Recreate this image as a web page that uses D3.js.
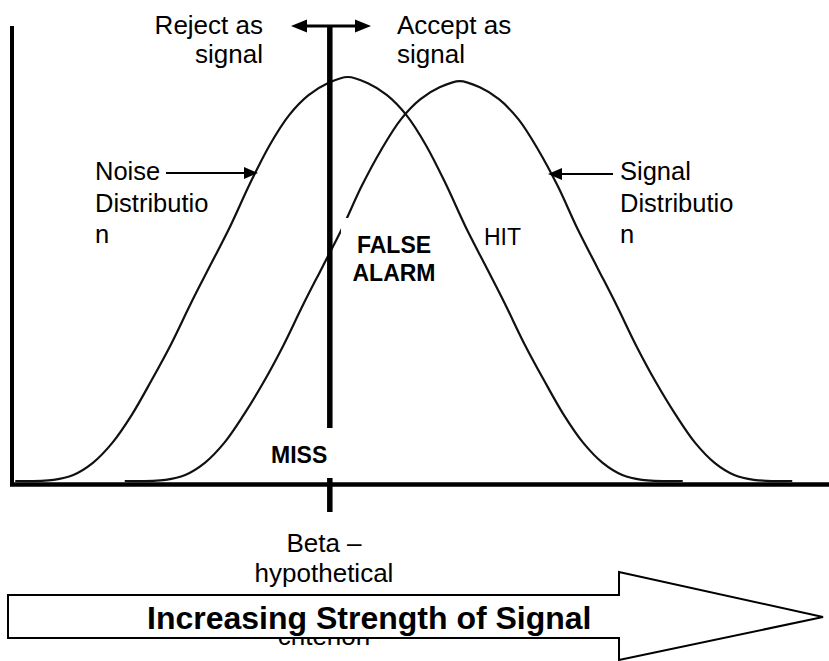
<!DOCTYPE html>
<html>
<head>
<meta charset="utf-8">
<script src="https://cdn.jsdelivr.net/npm/d3@7"></script>
<style>
  body { margin: 0; background: #fff; }
  svg { display: block; font-family: Arial, "Liberation Sans", sans-serif; }
</style>
</head>
<body>
<div id="app"></div>
<script>
// signal strength (0-100) and relative density (0-1)
var noiseX = [0.4, 5.1, 7.5, 9.9, 12.3, 14.7, 17.1, 19.5, 21.9, 24.3, 26.7, 29.1, 31.5, 33.9, 36.3, 38.7, 41.1,
              43.5, 45.9, 48.3, 50.7, 53.1, 55.5, 57.9, 60.3, 62.7, 65.1, 67.5, 69.9, 72.3, 74.7, 77.1, 82.1];
var noiseY = [0, 0.003, 0.015, 0.045, 0.095, 0.165, 0.25, 0.34, 0.44, 0.535, 0.63, 0.735, 0.83, 0.905, 0.955, 0.985, 1.0,
              0.985, 0.955, 0.905, 0.83, 0.735, 0.63, 0.535, 0.44, 0.34, 0.25, 0.165, 0.095, 0.045, 0.015, 0.003, 0];
var signalX = [13.8, 18.8, 21.2, 23.6, 26.0, 28.4, 30.8, 33.2, 35.6, 38.0, 40.4, 42.8, 45.2, 47.6, 50.0, 52.4, 54.8,
               57.2, 59.6, 62.0, 64.4, 66.8, 69.2, 71.6, 74.0, 76.4, 78.8, 81.2, 83.6, 86.0, 88.4, 90.8, 95.5];
var signalY = [0, 0.003, 0.015, 0.045, 0.095, 0.165, 0.245, 0.335, 0.435, 0.53, 0.625, 0.73, 0.82, 0.895, 0.945, 0.975, 0.99,
               0.975, 0.945, 0.895, 0.82, 0.73, 0.625, 0.53, 0.435, 0.335, 0.245, 0.165, 0.095, 0.045, 0.015, 0.003, 0];
var criterion = 38.9; // beta

var W = 829, H = 661;
var svg = d3.select('#app').append('svg').attr('width', W).attr('height', H);

var x = d3.scaleLinear().domain([0, 100]).range([12, 829]);
var y = d3.scaleLinear().domain([0, 1]).range([481, 77]);

var line = d3.line()
  .x(function(d) { return x(d[0]); })
  .y(function(d) { return y(d[1]); })
  .curve(d3.curveCatmullRom.alpha(0.5));

function tri(tipX, tipY, dir, len, half) {
  // filled arrowhead, dir = 1 points right, -1 points left
  var b = tipX - dir * len;
  return 'M' + tipX + ',' + tipY + 'L' + b + ',' + (tipY - half) + 'L' + b + ',' + (tipY + half) + 'Z';
}

// axes (no ticks, just the frame)
svg.append('line').attr('x1', x(0)).attr('x2', x(0)).attr('y1', 26).attr('y2', 486)
  .attr('stroke', '#000').attr('stroke-width', 4);
svg.append('line').attr('x1', 10).attr('x2', W).attr('y1', 484.5).attr('y2', 484.5)
  .attr('stroke', '#000').attr('stroke-width', 4.5);

// the two distributions
var curves = [d3.zip(noiseX, noiseY), d3.zip(signalX, signalY)];
svg.selectAll('path.dist').data(curves).enter().append('path')
  .attr('class', 'dist')
  .attr('d', line)
  .attr('fill', 'none')
  .attr('stroke', '#111')
  .attr('stroke-width', 2.2);

// criterion line
var cx = x(criterion);
svg.append('line').attr('x1', cx).attr('x2', cx).attr('y1', 25).attr('y2', 512)
  .attr('stroke', '#000').attr('stroke-width', 5.5);

// white label boxes cover bits of the lines like in the original
svg.append('rect').attr('x', 341).attr('y', 218).attr('width', 100).attr('height', 80).attr('fill', '#fff');
svg.append('rect').attr('x', 262).attr('y', 428).attr('width', 80).attr('height', 50).attr('fill', '#fff');

// top double arrow
svg.append('line').attr('x1', 300).attr('x2', 362).attr('y1', 26).attr('y2', 26)
  .attr('stroke', '#000').attr('stroke-width', 3);
svg.append('path').attr('d', tri(291, 26, -1, 16, 6.5)).attr('fill', '#000');
svg.append('path').attr('d', tri(371, 26, 1, 16, 6.5)).attr('fill', '#000');

// pointer arrows to the curves
svg.append('line').attr('x1', 166).attr('x2', 248).attr('y1', 173).attr('y2', 173)
  .attr('stroke', '#000').attr('stroke-width', 2);
svg.append('path').attr('d', tri(258, 173, 1, 14, 6)).attr('fill', '#000');
svg.append('line').attr('x1', 558).attr('x2', 613).attr('y1', 174).attr('y2', 174)
  .attr('stroke', '#000').attr('stroke-width', 2);
svg.append('path').attr('d', tri(548, 174, -1, 14, 6)).attr('fill', '#000');

var labels = [
  { t: 'Reject as', x: 263, y: 34, a: 'end', s: 26, w: 'normal' },
  { t: 'signal', x: 263, y: 63, a: 'end', s: 26, w: 'normal' },
  { t: 'Accept as', x: 397, y: 34, a: 'start', s: 26, w: 'normal' },
  { t: 'signal', x: 397, y: 63, a: 'start', s: 26, w: 'normal' },
  { t: 'Noise', x: 95, y: 180, a: 'start', s: 25.5, w: 'normal' },
  { t: 'Distributio', x: 95, y: 212, a: 'start', s: 25.5, w: 'normal' },
  { t: 'n', x: 95, y: 243, a: 'start', s: 25.5, w: 'normal' },
  { t: 'Signal', x: 620, y: 180, a: 'start', s: 25.5, w: 'normal' },
  { t: 'Distributio', x: 620, y: 212, a: 'start', s: 25.5, w: 'normal' },
  { t: 'n', x: 620, y: 243, a: 'start', s: 25.5, w: 'normal' },
  { t: 'FALSE', x: 394, y: 253, a: 'middle', s: 23, w: 'bold' },
  { t: 'ALARM', x: 394, y: 281, a: 'middle', s: 23, w: 'bold' },
  { t: 'HIT', x: 484, y: 245, a: 'start', s: 23, w: 'normal' },
  { t: 'MISS', x: 271, y: 463, a: 'start', s: 23, w: 'bold' },
  { t: 'Beta \u2013', x: 324, y: 552, a: 'middle', s: 26, w: 'normal' },
  { t: 'hypothetical', x: 324, y: 582, a: 'middle', s: 26, w: 'normal' },
  { t: 'criterion', x: 324, y: 645, a: 'middle', s: 26, w: 'normal' }
];
svg.selectAll('text.lab').data(labels).enter().append('text')
  .attr('class', 'lab')
  .attr('x', function(d) { return d.x; })
  .attr('y', function(d) { return d.y; })
  .attr('text-anchor', function(d) { return d.a; })
  .attr('font-size', function(d) { return d.s; })
  .attr('font-weight', function(d) { return d.w; })
  .attr('fill', '#000')
  .text(function(d) { return d.t; });

// big outlined arrow along the bottom (it hides most of "criterion", as in the original)
var bigArrow = [[8, 595], [619, 595], [619, 572], [823, 617], [619, 660], [619, 638], [8, 638]];
svg.append('path')
  .attr('d', 'M' + bigArrow.join('L') + 'Z')
  .attr('fill', '#fff').attr('stroke', '#000').attr('stroke-width', 2);
svg.append('text').attr('x', 147).attr('y', 629)
  .attr('font-size', 32).attr('font-weight', 'bold').attr('fill', '#000')
  .text('Increasing Strength of Signal');
</script>
</body>
</html>
